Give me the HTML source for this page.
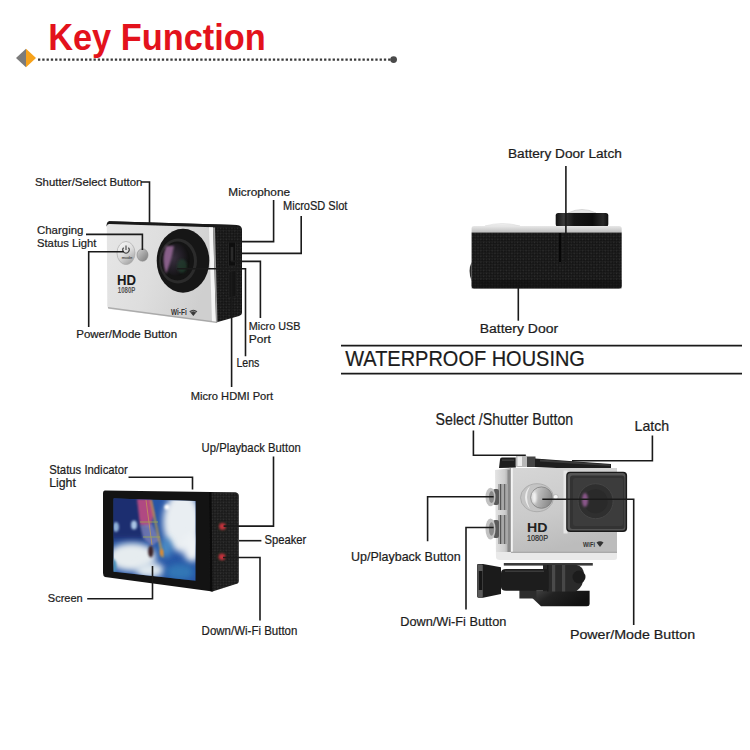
<!DOCTYPE html>
<html><head><meta charset="utf-8"><style>
html,body{margin:0;padding:0;background:#fff;width:750px;height:750px;overflow:hidden}
svg{position:absolute;left:0;top:0;font-family:"Liberation Sans",sans-serif}
</style></head><body>
<svg width="750" height="750" viewBox="0 0 750 750">
<g id="cam1">
<defs>
<linearGradient id="c1face" x1="0" y1="0" x2="1" y2="0.3">
<stop offset="0" stop-color="#e6e6e6"/><stop offset="0.5" stop-color="#dedede"/><stop offset="1" stop-color="#cfcfcf"/>
</linearGradient>
<radialGradient id="c1glass" cx="0.35" cy="0.45" r="0.6">
<stop offset="0" stop-color="#3a3040"/><stop offset="0.6" stop-color="#221e26"/><stop offset="1" stop-color="#111"/>
</radialGradient>
<linearGradient id="c1btn" x1="0.2" y1="0" x2="0.8" y2="1">
<stop offset="0" stop-color="#f6f6f6"/><stop offset="0.5" stop-color="#dcdcdc"/><stop offset="1" stop-color="#9e9e9e"/>
</linearGradient>
<linearGradient id="c1btn2" x1="0" y1="0" x2="1" y2="1"><stop offset="0" stop-color="#d0d0d0"/><stop offset="1" stop-color="#7a7a7a"/></linearGradient>
</defs>
<path d="M109,221.3 L237,225 Q242,225.5 242,230 L242,313 Q242,315 239,316 L216,322.5 L106.5,226 Q106.5,222 109,221.3 Z" fill="url(#tex)"/>
<path d="M109,221.3 L237,225 L236,227.5 L109,224 Z" fill="#1a1a1a"/>
<path d="M109,224 L213,227.3 L216,322.5 L109.5,309 Q107.3,308.5 107.3,306 L106.8,226.5 Q106.8,224 109,224 Z" fill="url(#c1face)"/>
<path d="M209,227.3 L213,227.5 L216,322.5 L212,322 Z" fill="#f4f4f4"/>
<path d="M213,227.5 L215,227.6 L217.5,322.3 L216,322.5 Z" fill="#9a9a9a"/>
<path d="M108,307 L216,321.5 L216,323 L108,308.5 Z" fill="#8a8a8a" opacity="0.6"/>
<!-- side ports -->
<rect x="228.7" y="242" width="6.6" height="24" fill="#0e0e0e" stroke="#2c2c2c" stroke-width="0.6"/>
<rect x="230.7" y="247" width="2.6" height="14" fill="#2a2a2a"/>
<path d="M229,272 L236,270 L236,296 L229,298 Z" fill="#141414" stroke="#2a2a2a" stroke-width="0.5"/>
<!-- lens -->
<ellipse cx="183" cy="260.7" rx="26.3" ry="32" fill="#161616"/>
<ellipse cx="178" cy="261" rx="19" ry="22.5" fill="#2b2b2b"/>
<ellipse cx="177.5" cy="261" rx="16.5" ry="19.5" fill="#141414"/>
<ellipse cx="176.7" cy="259.7" rx="13.3" ry="16.3" fill="url(#c1glass)"/>
<path d="M166,246 Q161,260 166,274 Q171,262 174,246 Z" fill="#9a6a9a" opacity="0.85" filter="url(#blur1)"/>
<ellipse cx="182" cy="266" rx="5" ry="7" fill="#24402e" opacity="0.7" filter="url(#blur1)"/>
<!-- buttons -->
<ellipse cx="126" cy="253" rx="9" ry="11.5" fill="url(#c1btn)" stroke="#aaa" stroke-width="0.7"/>
<path d="M123.6,247.6 A3.2,3.2 0 1 0 128.4,247.6 M126,245.6 L126,250" fill="none" stroke="#444" stroke-width="1.1"/>
<text x="121.8" y="259" font-size="4.2" fill="#555" stroke="#555" stroke-width="0.15">mode</text>
<ellipse cx="142.5" cy="255" rx="5.5" ry="6.2" fill="url(#c1btn2)" stroke="#888" stroke-width="0.6"/>
<text x="117" y="284.5" font-size="15" font-weight="bold" fill="#1a1a1a" textLength="19" lengthAdjust="spacingAndGlyphs">HD</text>
<text x="117.8" y="293" font-size="8.3" font-weight="bold" fill="#555" textLength="17.5" lengthAdjust="spacingAndGlyphs">1080P</text>
<text x="171" y="314.6" font-size="8.5" font-weight="bold" fill="#333" textLength="15.7" lengthAdjust="spacingAndGlyphs">Wi-Fi</text>
<path d="M193.3,316 L189.3,311.3 Q193.3,308 197.3,311.3 Z" fill="#3a3a3a"/>
<path d="M190.3,312.2 Q193.3,310 196.3,312.2" fill="none" stroke="#cfcfcf" stroke-width="0.5"/>
</g>
<g id="cam2">
<defs>
<pattern id="tex" width="4" height="4" patternUnits="userSpaceOnUse" patternTransform="rotate(45)">
<rect width="4" height="4" fill="#151515"/><rect x="0.4" y="0.4" width="1.6" height="1.6" fill="#2e2e2e"/><rect x="2.4" y="2.4" width="1.6" height="1.6" fill="#262626"/>
</pattern>
<linearGradient id="c2cap" x1="0" y1="0" x2="1" y2="0">
<stop offset="0" stop-color="#111"/><stop offset="0.15" stop-color="#3a3a3a"/><stop offset="0.35" stop-color="#151515"/><stop offset="0.7" stop-color="#0c0c0c"/><stop offset="0.9" stop-color="#2a2a2a"/><stop offset="1" stop-color="#101010"/>
</linearGradient>
<linearGradient id="c2strip" x1="0" y1="0" x2="0" y2="1">
<stop offset="0" stop-color="#e8e8e8"/><stop offset="1" stop-color="#bdbdbd"/>
</linearGradient>
</defs>
<path d="M568,213 Q582,206 596,213 Z" fill="#e6e6e6" stroke="#cfcfcf" stroke-width="0.8"/>
<path d="M485,226 Q502,221 520,226 Z" fill="#ececec" stroke="#dedede" stroke-width="0.6"/>
<rect x="555.7" y="213" width="52.6" height="13.5" rx="2.5" fill="url(#c2cap)"/>
<path d="M471.6,228 Q471.6,226 474,226 L619,226 Q621.7,226 621.7,228.5 L621.7,232.5 L471.6,232.5 Z" fill="url(#c2strip)"/>
<path d="M471.6,232.5 L621.7,232.5 L621.7,286 Q621.7,288.5 619,288.5 L474,288.5 Q471.6,288.5 471.6,286 Z" fill="url(#tex)"/>
<rect x="471.6" y="280" width="150" height="8.5" fill="#0d0d0d" opacity="0.5"/>
<path d="M471.6,262 Q467.5,271 471.6,281 Z" fill="#2a2a2a"/>
<rect x="559" y="233" width="2" height="29" fill="#070707"/>
</g>
<g id="cam3">
<defs>
<clipPath id="scr"><polygon points="113.6,498.6 195.5,501 195.5,580.8 113.6,571.8"/></clipPath>
<filter id="blur2" x="-50%" y="-50%" width="200%" height="200%"><feGaussianBlur stdDeviation="3"/></filter>
<filter id="blur1" x="-50%" y="-50%" width="200%" height="200%"><feGaussianBlur stdDeviation="1.2"/></filter>
<linearGradient id="sky" x1="0" y1="0" x2="1" y2="1">
<stop offset="0" stop-color="#1d3f95"/><stop offset="0.5" stop-color="#2f6fbd"/><stop offset="1" stop-color="#5aa0d0"/>
</linearGradient>
<pattern id="tex3" width="4" height="4" patternUnits="userSpaceOnUse" patternTransform="rotate(45)"><rect width="4" height="4" fill="#1a1a1a"/><rect x="0.4" y="0.4" width="1.6" height="1.6" fill="#333"/><rect x="2.4" y="2.4" width="1.6" height="1.6" fill="#2c2c2c"/></pattern>
</defs>
<path d="M105,490.5 L211,492 L212.5,591.5 L105,577 Q103,576 103,573 L103,493.5 Q103,490.5 105,490.5 Z" fill="#131313"/>
<path d="M209,492 L235.5,492.3 Q238.8,492.8 238.8,496 L238.8,581 Q238.8,583.5 236,584 L212.5,591.5 L210,591 Z" fill="url(#tex3)"/>
<path d="M209,492 L211.5,492 L212.5,591.5 L210,591 Z" fill="#0a0a0a"/>
<g clip-path="url(#scr)">
<rect x="110" y="495" width="90" height="90" fill="#2756a6"/>
<rect x="105" y="490" width="42" height="50" fill="#1d2d70" filter="url(#blur2)"/>
<ellipse cx="182" cy="522" rx="19" ry="30" fill="#e9eef2" filter="url(#blur2)"/>
<ellipse cx="192" cy="548" rx="9" ry="14" fill="#eef2f5" filter="url(#blur2)"/>
<ellipse cx="132" cy="557" rx="24" ry="14" fill="#e6ecef" filter="url(#blur2)"/>
<ellipse cx="150" cy="570" rx="14" ry="8" fill="#dfe8ee" filter="url(#blur2)"/>
<ellipse cx="113" cy="566" rx="3.5" ry="7" fill="#4a90b8" filter="url(#blur1)"/>
<ellipse cx="180" cy="572" rx="14" ry="8" fill="#3077b6" filter="url(#blur2)"/>
<ellipse cx="166" cy="548" rx="6" ry="10" fill="#4a8ac4" filter="url(#blur2)"/>
<ellipse cx="116" cy="527" rx="3" ry="5" fill="#8fb0d8" filter="url(#blur1)"/>
<ellipse cx="134" cy="525" rx="3" ry="4.5" fill="#a9c4e4" filter="url(#blur1)"/>
<path d="M137,499 L151,499 L154,515 L150,528 L140,525 Z" fill="#b04a82" filter="url(#blur1)"/>
<path d="M140,525 L152,524 L160,540 L152,546 L143,538 Z" fill="#7a7fb8" opacity="0.8" filter="url(#blur1)"/>
<path d="M150.8,499.8 L162.8,557.4" stroke="#d4a040" stroke-width="1.6" filter="url(#blur1)"/>
<path d="M146,500 L152,545" stroke="#c9a050" stroke-width="1" opacity="0.7"/>
<path d="M140,522 L158,522 M143,537 L160,537" stroke="#9aaa50" stroke-width="1" opacity="0.8"/>
<ellipse cx="150.8" cy="551.4" rx="2.6" ry="6" fill="#3a2028" filter="url(#blur1)"/>
<ellipse cx="161.6" cy="552.6" rx="1.6" ry="3.5" fill="#e08a30" filter="url(#blur1)"/>
<circle cx="167" cy="507" r="2.6" fill="#fff" filter="url(#blur1)"/>
</g>
<circle cx="222.2" cy="526.4" r="6" fill="#1e2420"/>
<circle cx="222.5" cy="526.4" r="3.4" fill="#c0303a" filter="url(#blur1)"/>
<circle cx="221.6" cy="556.8" r="6" fill="#1e2420"/>
<circle cx="222" cy="556.8" r="3.4" fill="#c0303a" filter="url(#blur1)"/>
</g>
<g id="cam4">
<defs>
<linearGradient id="c4face" x1="0" y1="0" x2="0.3" y2="1">
<stop offset="0" stop-color="#d6d6d6"/><stop offset="0.6" stop-color="#cacaca"/><stop offset="1" stop-color="#bcbcbc"/>
</linearGradient>
<radialGradient id="c4btn" cx="0.35" cy="0.4" r="0.75">
<stop offset="0" stop-color="#f4f4f4"/><stop offset="0.6" stop-color="#cfcfcf"/><stop offset="1" stop-color="#9a9a9a"/>
</radialGradient>
<linearGradient id="c4lens" x1="0" y1="0" x2="1" y2="1">
<stop offset="0" stop-color="#404040"/><stop offset="1" stop-color="#2a2a2a"/>
</linearGradient>
<linearGradient id="c4base" x1="0" y1="0" x2="1" y2="0.4">
<stop offset="0" stop-color="#4a4a4a"/><stop offset="0.4" stop-color="#222"/><stop offset="1" stop-color="#111"/>
</linearGradient>
<linearGradient id="c4side" x1="0" y1="0" x2="1" y2="0">
<stop offset="0" stop-color="#e4e4e4"/><stop offset="0.6" stop-color="#cdcdcd"/><stop offset="1" stop-color="#9a9a9a"/>
</linearGradient>
<radialGradient id="c4knob" cx="0.5" cy="0.5" r="0.5">
<stop offset="0" stop-color="#555"/><stop offset="0.45" stop-color="#7a7a7a"/><stop offset="0.7" stop-color="#b8b8b8"/><stop offset="1" stop-color="#a0a0a0"/>
</radialGradient>
<linearGradient id="c4btn2" x1="0" y1="0" x2="1" y2="0.3"><stop offset="0" stop-color="#e8e8e8"/><stop offset="0.45" stop-color="#b8b8b8"/><stop offset="1" stop-color="#8c8c8c"/></linearGradient>
</defs>
<!-- top latch -->
<path d="M500,459.5 Q500,457.6 502,457.6 L515.8,457.6 L515.8,467.5 L499,468 Z" fill="#1e1e1e"/>
<rect x="502" y="459.5" width="12" height="1.2" fill="#444"/>
<rect x="515.8" y="455.5" width="11.5" height="11.5" rx="1.5" fill="#b8b8b8"/>
<rect x="517.5" y="456.5" width="4.5" height="9.5" fill="#ededed"/>
<rect x="527" y="456.5" width="8.5" height="10.5" fill="#444"/>
<path d="M535,458.5 L611,464 L611,470.5 L535,467 Z" fill="#1e1e1e"/>
<path d="M540,459.5 L610,464.5 L610,466 L540,461.5 Z" fill="#3a3a3a"/>
<!-- housing side (transparent) -->
<path d="M495,470 L511,468 L511,557.5 L496,557.5 Z" fill="url(#c4side)"/>
<rect x="507.5" y="470" width="2.5" height="87" fill="#8a8a8a"/>
<!-- face -->
<path d="M511,468 L617,468 L617,552 L511,552 Z" fill="url(#c4face)"/>
<rect x="511" y="468" width="1.8" height="84" fill="#f4f4f4"/>
<path d="M496,552 L617,552 L617,557.5 Q617,560 614,560 L500,560 Q496,560 496,557 Z" fill="#e9e9e9"/>
<path d="M511,552.3 L617,552.3" stroke="#9a9a9a" stroke-width="1"/>
<!-- side buttons -->
<g id="knobs">
<rect x="498" y="484" width="10" height="26" fill="#a8a8a8"/>
<rect x="500" y="484" width="1.2" height="26" fill="#555"/>
<rect x="504" y="484" width="1.2" height="26" fill="#666"/>
<rect x="493" y="489" width="6" height="16" rx="2" fill="#5a5a5a"/>
<ellipse cx="490.5" cy="497" rx="5" ry="9.3" fill="#c2c2c2"/>
<ellipse cx="491.5" cy="497" rx="2.6" ry="6" fill="#8a8a8a"/>
<rect x="498" y="515" width="10" height="29" fill="#a8a8a8"/>
<rect x="500" y="515" width="1.2" height="29" fill="#555"/>
<rect x="504" y="515" width="1.2" height="29" fill="#666"/>
<rect x="493" y="520" width="6" height="18" rx="2" fill="#5a5a5a"/>
<ellipse cx="490.5" cy="529" rx="5" ry="10.5" fill="#c2c2c2"/>
<ellipse cx="491.5" cy="529" rx="2.6" ry="6.8" fill="#8a8a8a"/>
</g>
<!-- big button -->
<ellipse cx="537" cy="497.7" rx="16.5" ry="14" fill="#c4c4c4" stroke="#a6a6a6" stroke-width="0.8"/>
<path d="M530,486 Q520,497 530,509 Q524,497 530,486 Z" fill="#ececec"/>
<ellipse cx="541.5" cy="497.6" rx="10.8" ry="10.7" fill="url(#c4btn2)" stroke="#7e7e7e" stroke-width="0.8"/>
<ellipse cx="534.5" cy="497.6" rx="2" ry="6" fill="#f4f4f4" filter="url(#blur1)"/>
<circle cx="555.7" cy="497" r="2.5" fill="#f6f6f6" stroke="#9a9a9a" stroke-width="0.5"/>
<text x="527" y="531.7" font-size="13.3" font-weight="bold" fill="#222" textLength="20.5" lengthAdjust="spacingAndGlyphs">HD</text>
<text x="527" y="540.9" font-size="8.8" fill="#2a2a2a" stroke="#2a2a2a" stroke-width="0.2" textLength="21" lengthAdjust="spacingAndGlyphs">1080P</text>
<!-- lens box -->
<rect x="563.5" y="470.5" width="4" height="63" fill="#e6e6e6"/>
<rect x="566.2" y="471.8" width="60.9" height="60.2" rx="4" fill="#1a1a1a"/>
<rect x="567.5" y="473" width="58" height="57.5" rx="3" fill="#555"/>
<rect x="570" y="475.5" width="54.5" height="53.5" rx="2.5" fill="#333"/>
<rect x="573" y="478" width="50" height="48" rx="2" fill="#3c3c3c"/>
<circle cx="595.6" cy="501.2" r="17.5" fill="#2f2f2f" stroke="#454545" stroke-width="1"/>
<circle cx="595.6" cy="501.2" r="12" fill="#2a2a2a"/>
<ellipse cx="585" cy="500" rx="3" ry="7" fill="#a262a2" opacity="0.8" filter="url(#blur1)"/>
<text x="583" y="546.7" font-size="6.5" font-weight="bold" fill="#333" textLength="12" lengthAdjust="spacingAndGlyphs">WiFi</text>
<path d="M600,547 L596.5,542.5 Q600,540 603.5,542.5 Z" fill="#333"/>
<!-- mount -->
<rect x="503.8" y="563" width="89" height="2.6" fill="#3a3a3a"/>
<path d="M536,590.7 L589.6,590.7 L589.6,604 Q589.6,606.3 587,606.3 L541,606.3 L530.7,596.5 Z" fill="url(#c4base)"/>
<rect x="519.4" y="586" width="17" height="12.5" fill="#2c2c2c"/>
<path d="M543,564.7 L576,564.7 Q584,566 584,575 Q584,586 576,591.6 L543,591.6 Z" fill="#2a2a2a"/>
<rect x="552" y="565" width="3.2" height="26.5" fill="#4a4a4a"/>
<rect x="562" y="565" width="3.2" height="26.5" fill="#474747"/>
<rect x="547" y="565" width="1.5" height="26.5" fill="#1a1a1a"/>
<circle cx="579" cy="577" r="6.5" fill="#1c1c1c"/>
<path d="M501,573 Q501,569 506,569 L546,569 Q548.5,569 548.5,573 L548.5,587 Q548.5,590.7 545,590.7 L506,590.7 Q501,590.7 501,587 Z" fill="#1d1d1d"/>
<path d="M505,571.2 L544,571.2" stroke="#3a3a3a" stroke-width="1.6"/>
<path d="M477,565 Q477,563.9 478.5,563.9 L483,563.9 L501,567.3 L501,594 L483,597.7 L478.5,597.7 Q477,597.7 477,596 Z" fill="#1b1b1b"/>
<rect x="477.3" y="564.5" width="5.5" height="32.7" rx="1" fill="#5a5a5a"/>
<rect x="478.8" y="571" width="3.5" height="19" fill="#161616"/>
</g>

<polyline points="141,182 149.5,182 149.5,223" fill="none" stroke="#1a1a1a" stroke-width="1.6"/>
<polyline points="86,234.4 142.4,234.4 142.4,250" fill="none" stroke="#1a1a1a" stroke-width="1.6"/>
<polyline points="123.7,251.7 88.7,251.7 88.7,327" fill="none" stroke="#1a1a1a" stroke-width="1.6"/>
<polyline points="228.4,241.6 273.6,241.6 273.6,200" fill="none" stroke="#1a1a1a" stroke-width="1.6"/>
<polyline points="240.5,253.4 301.2,253.4 301.2,216" fill="none" stroke="#1a1a1a" stroke-width="1.6"/>
<polyline points="231,261.4 260.4,261.4 260.4,318" fill="none" stroke="#1a1a1a" stroke-width="1.6"/>
<polyline points="177,268.7 245.5,268.7 245.5,356.3" fill="none" stroke="#1a1a1a" stroke-width="1.6"/>
<polyline points="231.6,271.7 231.6,387" fill="none" stroke="#1a1a1a" stroke-width="1.6"/>
<polyline points="565.9,166 565.9,262" fill="none" stroke="#1a1a1a" stroke-width="1.6"/>
<polyline points="518.3,288 518.3,320.7" fill="none" stroke="#1a1a1a" stroke-width="1.6"/>
<polyline points="128.5,477.3 192.5,477.3 192.5,489.5" fill="none" stroke="#1a1a1a" stroke-width="1.6"/>
<polyline points="223.6,526.1 273.5,526.1 273.5,456.6" fill="none" stroke="#1a1a1a" stroke-width="1.6"/>
<polyline points="239,540.7 261.4,540.7" fill="none" stroke="#1a1a1a" stroke-width="1.6"/>
<polyline points="223,557.5 260,557.5 260,620.5" fill="none" stroke="#1a1a1a" stroke-width="1.6"/>
<polyline points="87.2,598.8 152.5,598.8 152.5,566" fill="none" stroke="#1a1a1a" stroke-width="1.6"/>
<polyline points="473.4,430.5 473.4,455.2 525.8,455.2" fill="none" stroke="#1a1a1a" stroke-width="1.6"/>
<polyline points="652.4,435.6 652.4,460.8 572,460.8" fill="none" stroke="#1a1a1a" stroke-width="1.6"/>
<polyline points="493.6,496.8 427.6,496.8 427.6,541.2" fill="none" stroke="#1a1a1a" stroke-width="1.6"/>
<polyline points="493.6,527.5 466,527.5 466,609.6" fill="none" stroke="#1a1a1a" stroke-width="1.6"/>
<polyline points="542.3,499.2 633.7,499.2 633.7,625" fill="none" stroke="#1a1a1a" stroke-width="1.6"/>
<polygon points="26,48.7 26,67.3 16,58" fill="#7b7b7b"/><polygon points="26,48.7 36,58 26,67.3" fill="#f6a21b"/>
<line x1="38" y1="59.6" x2="392" y2="59.6" stroke="#3a3a3a" stroke-width="2.3" stroke-dasharray="2.3 1.97"/><circle cx="393.6" cy="59.6" r="3.4" fill="#4a4a4a"/>
<line x1="341" y1="345.7" x2="742" y2="345.7" stroke="#1a1a1a" stroke-width="1.8"/><line x1="341" y1="373.6" x2="742" y2="373.6" stroke="#1a1a1a" stroke-width="1.8"/>
<text x="48.2" y="50.3" font-size="36.9" font-weight="bold" fill="#e3121c" textLength="217.6" lengthAdjust="spacingAndGlyphs">Key Function</text>
<text x="35.0" y="186.0" font-size="11.63" textLength="107.4" lengthAdjust="spacingAndGlyphs" fill="#1c1c1c" stroke="#1c1c1c" stroke-width="0.22">Shutter/Select Button</text>
<text x="37.0" y="233.6" font-size="11.63" textLength="46.4" lengthAdjust="spacingAndGlyphs" fill="#1c1c1c" stroke="#1c1c1c" stroke-width="0.22">Charging</text>
<text x="37.0" y="247.0" font-size="11.63" textLength="59.4" lengthAdjust="spacingAndGlyphs" fill="#1c1c1c" stroke="#1c1c1c" stroke-width="0.22">Status Light</text>
<text x="228.3" y="196.0" font-size="11.63" textLength="61.8" lengthAdjust="spacingAndGlyphs" fill="#1c1c1c" stroke="#1c1c1c" stroke-width="0.22">Microphone</text>
<text x="283.0" y="209.5" font-size="12.35" textLength="64.4" lengthAdjust="spacingAndGlyphs" fill="#1c1c1c" stroke="#1c1c1c" stroke-width="0.22">MicroSD Slot</text>
<text x="76.3" y="337.8" font-size="10.61" textLength="100.8" lengthAdjust="spacingAndGlyphs" fill="#1c1c1c" stroke="#1c1c1c" stroke-width="0.22">Power/Mode Button</text>
<text x="248.8" y="329.5" font-size="11.63" textLength="51.6" lengthAdjust="spacingAndGlyphs" fill="#1c1c1c" stroke="#1c1c1c" stroke-width="0.22">Micro USB</text>
<text x="248.8" y="343.0" font-size="10.47" textLength="22.0" lengthAdjust="spacingAndGlyphs" fill="#1c1c1c" stroke="#1c1c1c" stroke-width="0.22">Port</text>
<text x="236.5" y="366.8" font-size="12.06" textLength="22.9" lengthAdjust="spacingAndGlyphs" fill="#1c1c1c" stroke="#1c1c1c" stroke-width="0.22">Lens</text>
<text x="190.8" y="399.7" font-size="11.19" textLength="82.3" lengthAdjust="spacingAndGlyphs" fill="#1c1c1c" stroke="#1c1c1c" stroke-width="0.22">Micro HDMI Port</text>
<text x="508.0" y="158.2" font-size="12.65" textLength="113.8" lengthAdjust="spacingAndGlyphs" fill="#1c1c1c" stroke="#1c1c1c" stroke-width="0.22">Battery Door Latch</text>
<text x="479.7" y="332.7" font-size="12.65" textLength="78.4" lengthAdjust="spacingAndGlyphs" fill="#1c1c1c" stroke="#1c1c1c" stroke-width="0.22">Battery Door</text>
<text x="345.2" y="366.2" font-size="22.09" textLength="239.7" lengthAdjust="spacingAndGlyphs" fill="#1c1c1c" stroke="#1c1c1c" stroke-width="0.22">WATERPROOF HOUSING</text>
<text x="49.2" y="473.7" font-size="12.35" textLength="78.6" lengthAdjust="spacingAndGlyphs" fill="#1c1c1c" stroke="#1c1c1c" stroke-width="0.22">Status Indicator</text>
<text x="49.2" y="487.3" font-size="12.35" textLength="26.7" lengthAdjust="spacingAndGlyphs" fill="#1c1c1c" stroke="#1c1c1c" stroke-width="0.22">Light</text>
<text x="201.6" y="452.4" font-size="13.08" textLength="99.1" lengthAdjust="spacingAndGlyphs" fill="#1c1c1c" stroke="#1c1c1c" stroke-width="0.22">Up/Playback Button</text>
<text x="264.6" y="544.3" font-size="12.06" textLength="41.7" lengthAdjust="spacingAndGlyphs" fill="#1c1c1c" stroke="#1c1c1c" stroke-width="0.22">Speaker</text>
<text x="47.8" y="602.0" font-size="11.19" textLength="34.9" lengthAdjust="spacingAndGlyphs" fill="#1c1c1c" stroke="#1c1c1c" stroke-width="0.22">Screen</text>
<text x="201.6" y="634.5" font-size="12.35" textLength="95.8" lengthAdjust="spacingAndGlyphs" fill="#1c1c1c" stroke="#1c1c1c" stroke-width="0.22">Down/Wi-Fi Button</text>
<text x="435.6" y="425.0" font-size="16.13" textLength="137.6" lengthAdjust="spacingAndGlyphs" fill="#1c1c1c" stroke="#1c1c1c" stroke-width="0.22">Select /Shutter Button</text>
<text x="634.6" y="430.5" font-size="14.10" textLength="34.6" lengthAdjust="spacingAndGlyphs" fill="#1c1c1c" stroke="#1c1c1c" stroke-width="0.22">Latch</text>
<text x="351.0" y="560.9" font-size="12.94" textLength="109.7" lengthAdjust="spacingAndGlyphs" fill="#1c1c1c" stroke="#1c1c1c" stroke-width="0.22">Up/Playback Button</text>
<text x="400.2" y="625.9" font-size="13.23" textLength="106.1" lengthAdjust="spacingAndGlyphs" fill="#1c1c1c" stroke="#1c1c1c" stroke-width="0.22">Down/Wi-Fi Button</text>
<text x="569.9" y="638.6" font-size="13.08" textLength="125.2" lengthAdjust="spacingAndGlyphs" fill="#1c1c1c" stroke="#1c1c1c" stroke-width="0.22">Power/Mode Button</text>
</svg>
</body></html>
